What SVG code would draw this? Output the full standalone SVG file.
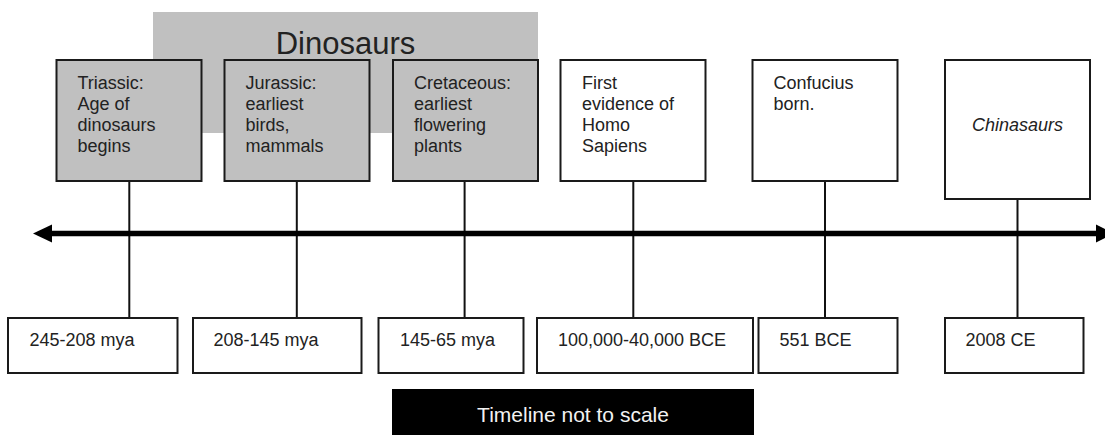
<svg xmlns="http://www.w3.org/2000/svg" width="1105" height="435" viewBox="0 0 1105 435">
<style>
text{font-family:"Liberation Sans",Arial,sans-serif;fill:#222;}
.t{font-size:18px;}
.gbox{fill:#c0c0c0;stroke:#1a1a1a;stroke-width:2;}
.wbox{fill:#fff;stroke:#1a1a1a;stroke-width:2;}
.stem{stroke:#111;stroke-width:2;fill:none;}
</style>
<rect width="1105" height="435" fill="#fff"/>
<g id="dinosaurs-band">
<rect x="153" y="12" width="385" height="121" fill="#c0c0c0"/>
<text x="345.5" y="53.5" font-size="31" text-anchor="middle">Dinosaurs</text>
</g>
<g id="connectors">
<line class="stem" x1="129.3" y1="181" x2="129.3" y2="318"/>
<line class="stem" x1="296.8" y1="181" x2="296.8" y2="318"/>
<line class="stem" x1="464.6" y1="181" x2="464.6" y2="318"/>
<line class="stem" x1="633.3" y1="181" x2="633.3" y2="318"/>
<line class="stem" x1="825" y1="181" x2="825" y2="318"/>
<line class="stem" x1="1017.5" y1="199" x2="1017.5" y2="318"/>
<line x1="50" y1="233.5" x2="1098" y2="233.5" stroke="#000" stroke-width="5.5"/>
<polygon points="33,233.5 52,224.5 52,242.5" fill="#000"/>
<polygon points="1114,233.5 1096,224.5 1096,242.5" fill="#000"/>
</g>
<g id="triassic">
<rect class="gbox" x="56.5" y="60" width="145" height="121"/>
<text class="t" x="77.5"><tspan x="77.5" y="89">Triassic:</tspan><tspan x="77.5" y="110">Age of</tspan><tspan x="77.5" y="131">dinosaurs</tspan><tspan x="77.5" y="152">begins</tspan></text>
</g>
<g id="jurassic">
<rect class="gbox" x="224.5" y="60" width="145" height="121"/>
<text class="t" x="245.5"><tspan x="245.5" y="89">Jurassic:</tspan><tspan x="245.5" y="110">earliest</tspan><tspan x="245.5" y="131">birds,</tspan><tspan x="245.5" y="152">mammals</tspan></text>
</g>
<g id="cretaceous">
<rect class="gbox" x="393" y="60" width="145" height="121"/>
<text class="t" x="414"><tspan x="414" y="89">Cretaceous:</tspan><tspan x="414" y="110">earliest</tspan><tspan x="414" y="131">flowering</tspan><tspan x="414" y="152">plants</tspan></text>
</g>
<g id="homo-sapiens">
<rect class="wbox" x="560.5" y="60" width="145" height="121"/>
<text class="t" x="582"><tspan x="582" y="89">First</tspan><tspan x="582" y="110">evidence of</tspan><tspan x="582" y="131">Homo</tspan><tspan x="582" y="152">Sapiens</tspan></text>
</g>
<g id="confucius">
<rect class="wbox" x="752.5" y="60" width="145" height="121"/>
<text class="t" x="773.5"><tspan x="773.5" y="89">Confucius</tspan><tspan x="773.5" y="110">born.</tspan></text>
</g>
<g id="chinasaurs">
<rect class="wbox" x="945" y="60" width="145" height="139"/>
<text class="t" x="1017.5" y="131" text-anchor="middle" font-style="italic">Chinasaurs</text>
</g>
<g id="date-245">
<rect class="wbox" x="8" y="318" width="169.5" height="55"/>
<text class="t" x="29.5" y="346">245-208 mya</text>
</g>
<g id="date-208">
<rect class="wbox" x="193" y="318" width="168.5" height="55"/>
<text class="t" x="213.5" y="346">208-145 mya</text>
</g>
<g id="date-145">
<rect class="wbox" x="378.5" y="318" width="145" height="55"/>
<text class="t" x="400" y="346">145-65 mya</text>
</g>
<g id="date-100000">
<rect class="wbox" x="537" y="318" width="216" height="55"/>
<text class="t" x="558" y="346">100,000-40,000 BCE</text>
</g>
<g id="date-551">
<rect class="wbox" x="758.5" y="318" width="139" height="55"/>
<text class="t" x="779.5" y="346">551 BCE</text>
</g>
<g id="date-2008">
<rect class="wbox" x="945" y="318" width="138.5" height="55"/>
<text class="t" x="965.5" y="346">2008 CE</text>
</g>
<g id="scale-note">
<rect x="392" y="389" width="362" height="50" fill="#000"/>
<text x="573" y="421.5" font-size="21" text-anchor="middle" style="fill:#f2f2f2">Timeline not to scale</text>
</g>
</svg>
